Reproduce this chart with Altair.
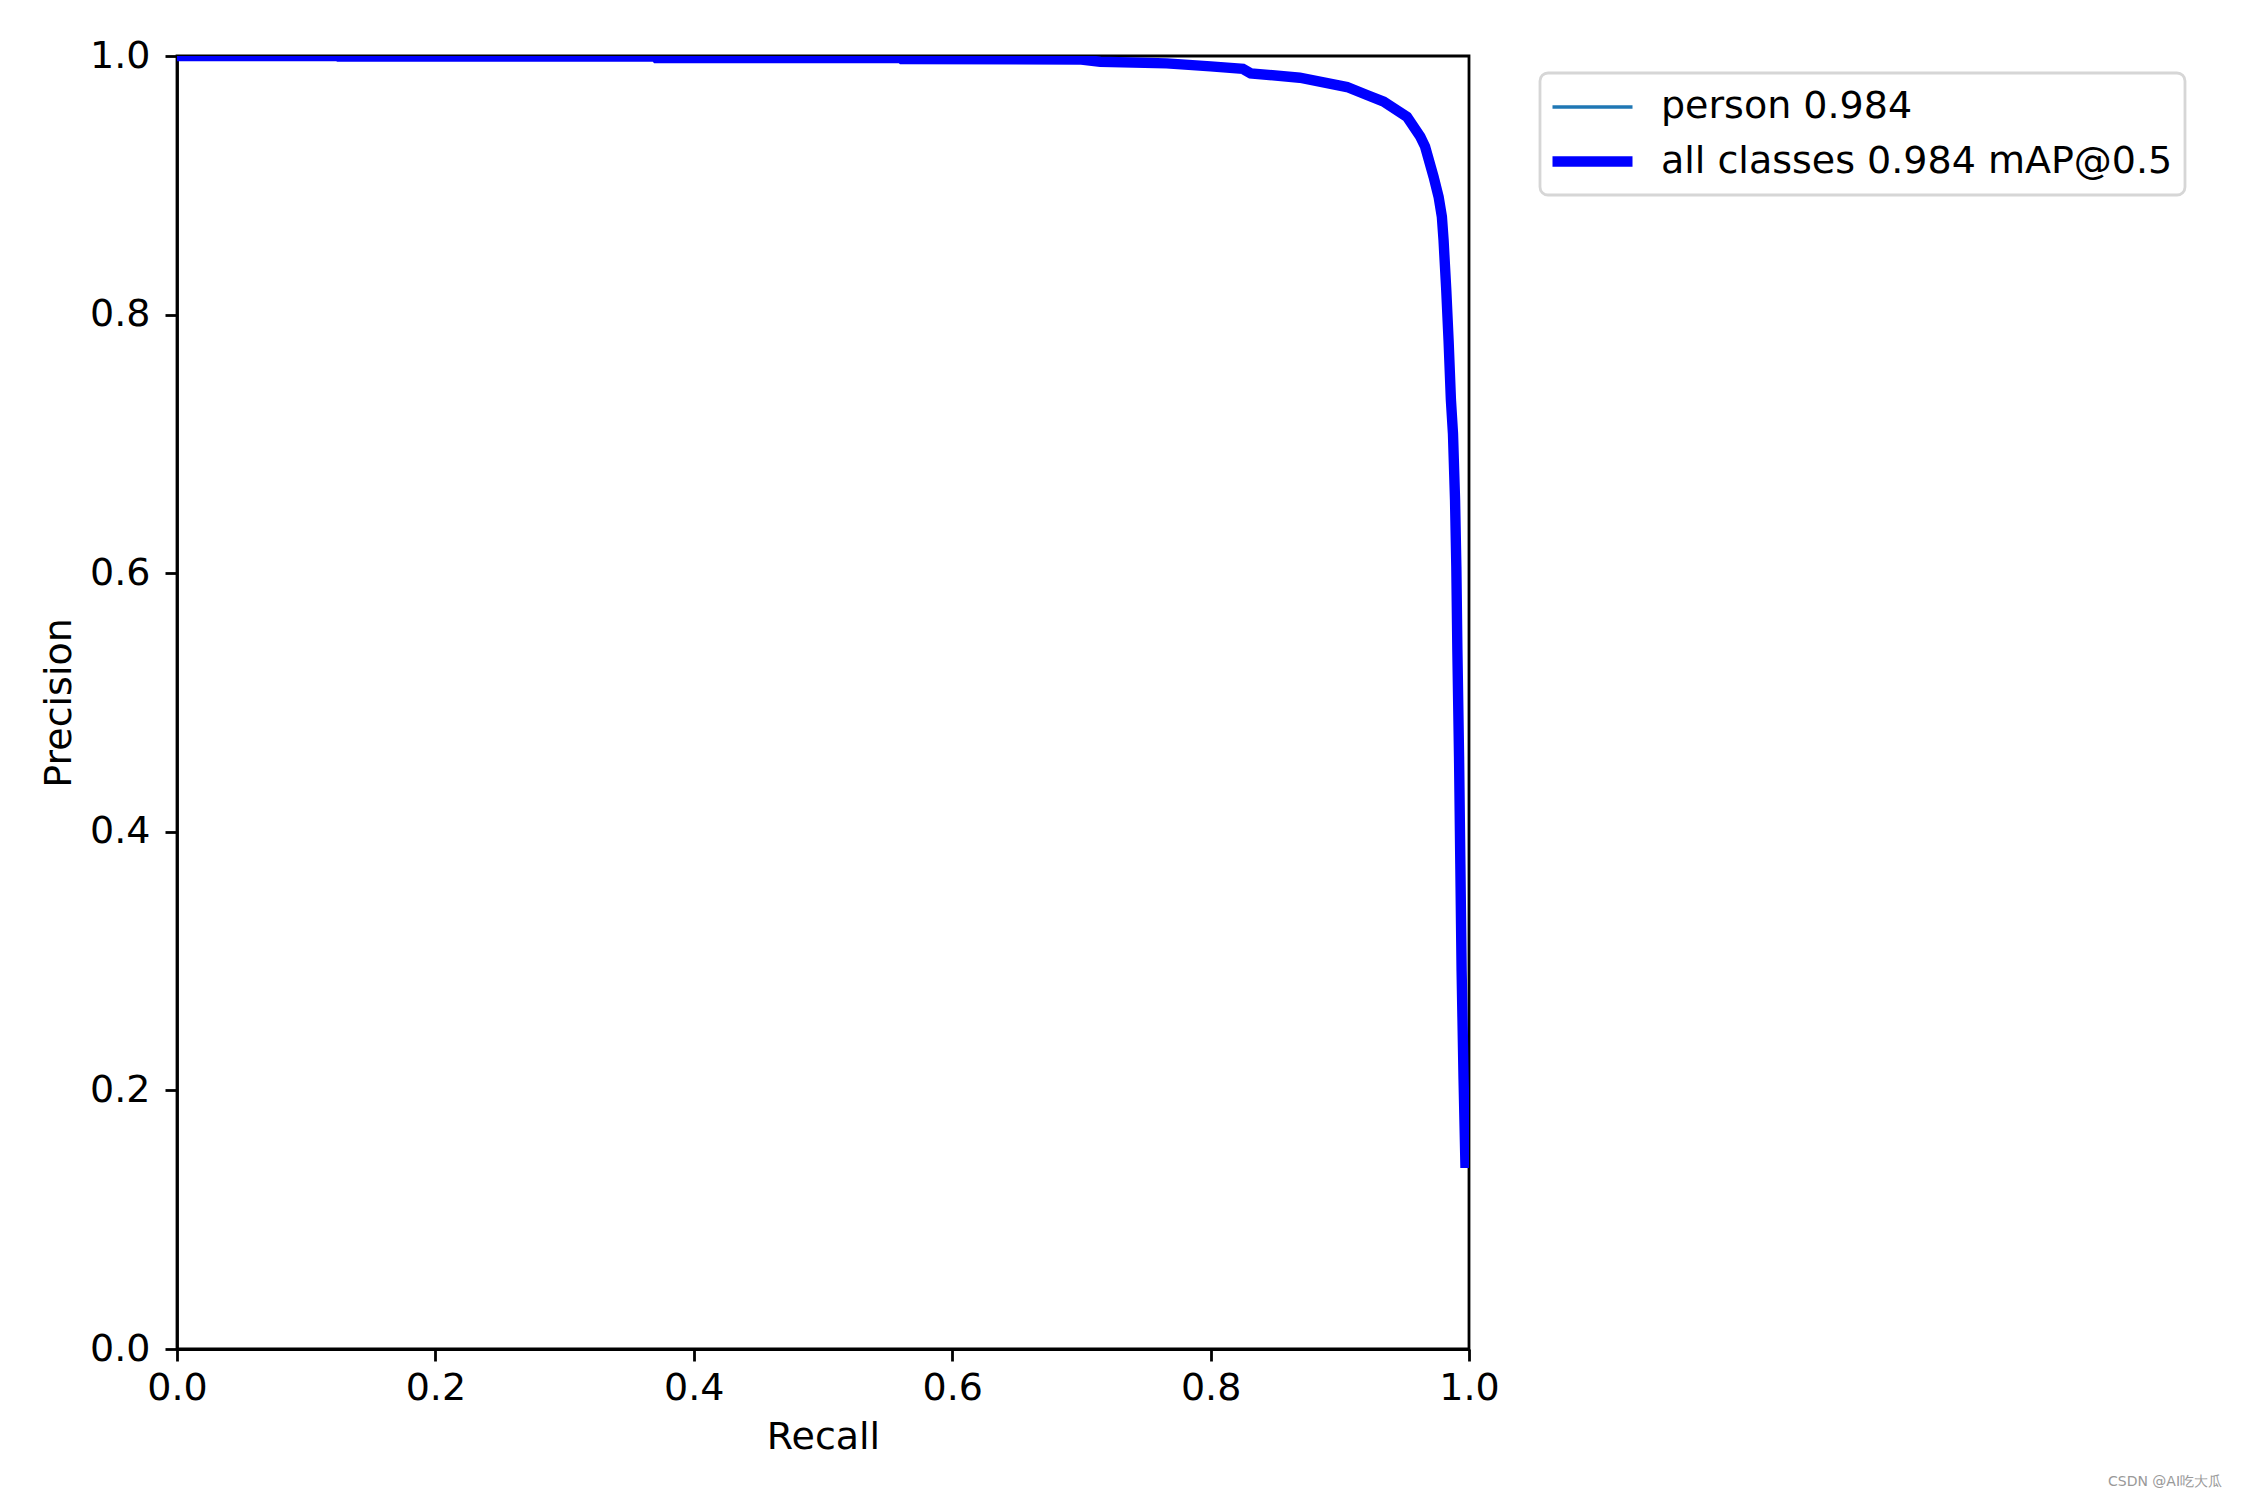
import altair as alt
import pandas as pd

# PR curve values
recall = [0.0, 0.124, 0.125, 0.37, 0.371, 0.56, 0.561, 0.70, 0.7146, 0.766, 0.80,
          0.825, 0.831, 0.869, 0.9056, 0.921, 0.934, 0.952, 0.9623, 0.966, 0.9726,
          0.9765, 0.979, 0.9803, 0.9824, 0.9842, 0.986, 0.9876, 0.9892, 0.9902,
          0.991, 0.9923, 0.9933, 0.9943, 0.9958, 0.9973]
precision = [1.0, 1.0, 0.9995, 0.9995, 0.9985, 0.9985, 0.9977, 0.9972, 0.9956, 0.9943, 0.992,
             0.990, 0.9866, 0.9832, 0.976, 0.9698, 0.9647, 0.953, 0.9376, 0.930, 0.9066,
             0.891, 0.8757, 0.8577, 0.819, 0.780, 0.734, 0.708, 0.6566, 0.605,
             0.5406, 0.458, 0.375, 0.292, 0.209, 0.14]

series_names = ["person 0.984", "all classes 0.984 mAP@0.5"]
series_colors = ["#1f77b4", "#0000ff"]
series_widths = [3.5, 10.4]
axis_ticks = [0.0, 0.2, 0.4, 0.6, 0.8, 1.0]

rows = []
for s in series_names:
    for r, p in zip(recall, precision):
        rows.append({"Recall": r, "Precision": p, "series": s})
df = pd.DataFrame(rows)

FONT = "DejaVu Sans"
FS = 38


def make_legend():
    return alt.Legend(
        title=None, orient="none", legendX=1363, legendY=17,
        symbolType="M-2,0H2", symbolSize=1600, symbolOffset=15,
        labelFontSize=FS, labelFont=FONT, labelColor="black", labelOffset=43,
        rowPadding=10, padding=12, fillColor="white", strokeColor="#d6d6d6",
        cornerRadius=8, labelLimit=1000,
    )


color = alt.Color("series:N", scale=alt.Scale(domain=series_names, range=series_colors),
                  legend=make_legend())
width_enc = alt.StrokeWidth("series:N", scale=alt.Scale(domain=series_names, range=series_widths),
                            legend=make_legend())

x = alt.X("Recall:Q", scale=alt.Scale(domain=[0, 1], nice=False),
          axis=alt.Axis(values=axis_ticks, format=".1f", title="Recall"))
y = alt.Y("Precision:Q", scale=alt.Scale(domain=[0, 1], nice=False),
          axis=alt.Axis(values=axis_ticks, format=".1f", title="Precision"))

base = alt.Chart(df)
person = base.transform_filter(alt.datum.series == series_names[0]).mark_line(clip=True).encode(
    x=x, y=y, color=color, strokeWidth=width_enc, order="Recall:Q")
allc = base.transform_filter(alt.datum.series == series_names[1]).mark_line(clip=True).encode(
    x=x, y=y, color=color, strokeWidth=width_enc, order="Recall:Q")

watermark = alt.Chart(pd.DataFrame({"t": ["CSDN @AI吃大瓜"]})).mark_text(
    fontSize=14, color="#999999", align="center", baseline="middle", font=FONT
).encode(text="t:N", x=alt.value(1988), y=alt.value(1426))

chart = alt.layer(person, allc, watermark).properties(
    width=1292, height=1293,
    autosize=alt.AutoSizeParams(type="none"),
    padding={"left": 169, "top": 48, "right": 773, "bottom": 143},
    background="white",
).configure_view(
    stroke="black", strokeWidth=2.8
).configure_axis(
    grid=False, domainColor="black", domainWidth=2.8, tickColor="black", tickWidth=2.8,
    tickSize=12, labelFontSize=FS, labelFont=FONT, labelColor="black",
    titleFontSize=FS, titleFont=FONT, titleFontWeight="normal", titleColor="black",
    labelFlush=False, labelOverlap=False,
).configure_axisX(titlePadding=11, labelPadding=8).configure_axisY(
    titlePadding=11, labelPadding=15
).configure_legend(
    strokeWidth=2.8
)

chart.save("out.html", embed_options={"renderer": "svg", "actions": False})
